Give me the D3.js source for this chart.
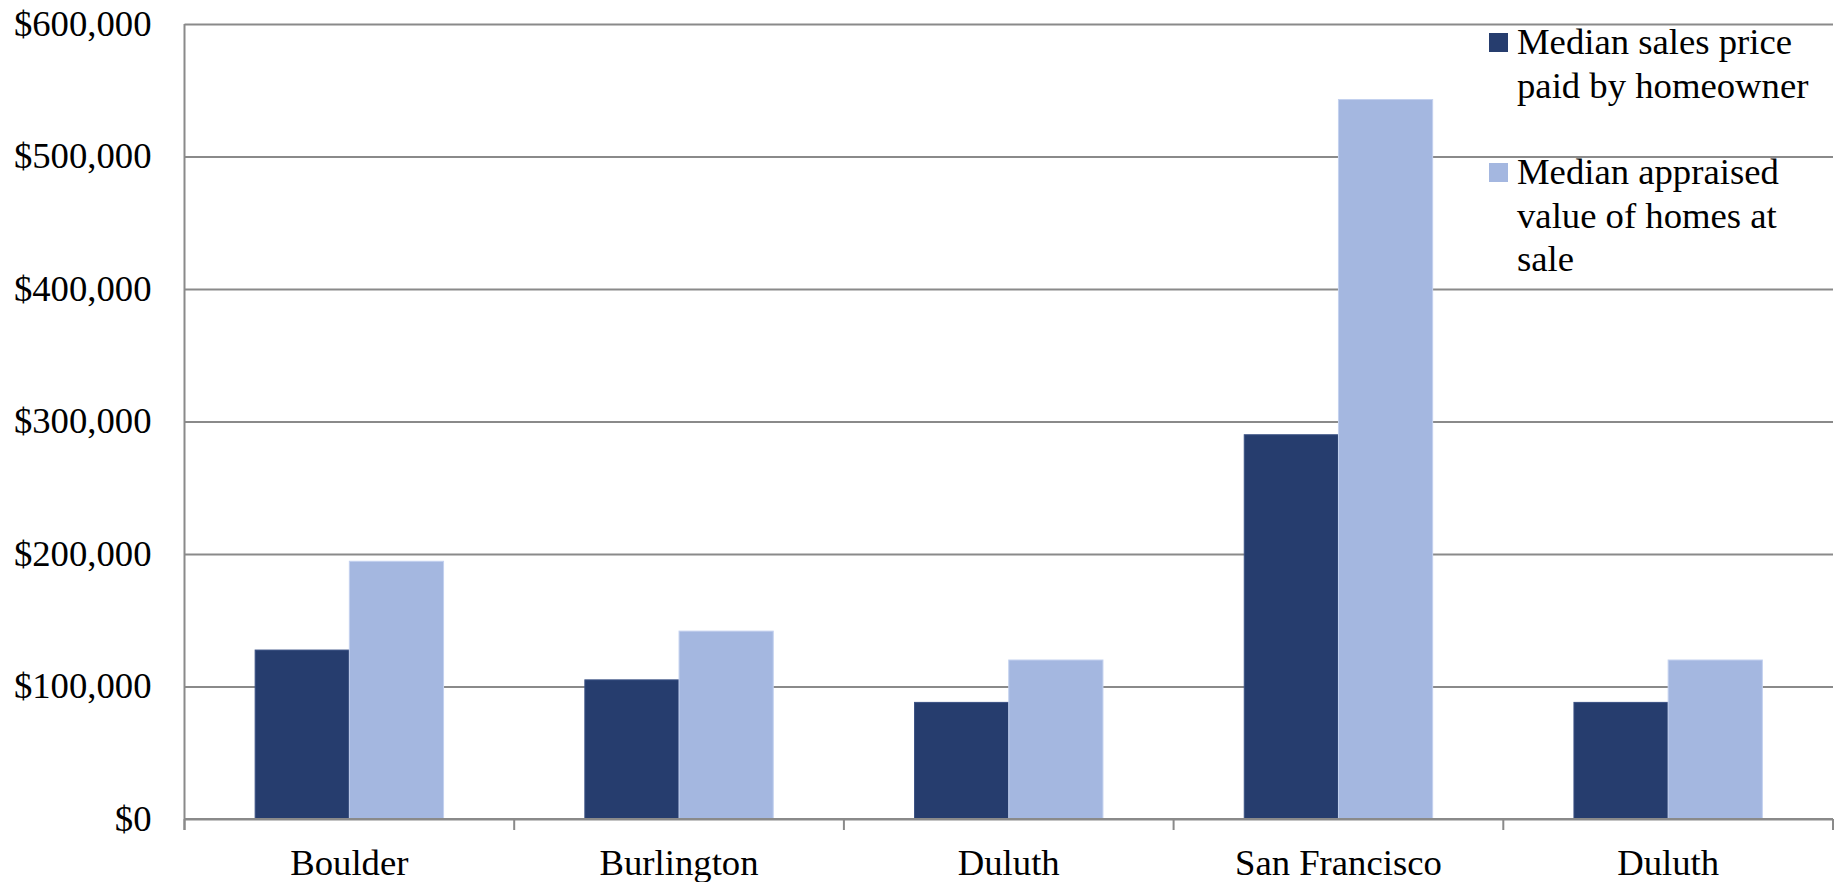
<!DOCTYPE html>
<html>
<head>
<meta charset="utf-8">
<script src="https://cdn.jsdelivr.net/npm/d3@7"></script>
<style>
  html, body { margin: 0; padding: 0; background: #fff; }
  svg { display: block; }
  text { font-family: "Liberation Serif", "Times New Roman", serif; fill: #000; }
</style>
</head>
<body>
<svg id="chart" width="1837" height="882"></svg>
<script>
// Cities along the category axis (Duluth is listed twice in the source table)
const categories = ["Boulder", "Burlington", "Duluth", "San Francisco", "Duluth"];

// Median sales price paid by homeowner
const salesPrice = [127500, 105000, 88000, 290000, 88000];
// Median appraised value of homes at sale
const appraisedValue = [194500, 141800, 120000, 543000, 120000];

const seriesNames = [
  ["Median sales price", "paid by homeowner"],
  ["Median appraised", "value of homes at", "sale"]
];
const seriesColors = ["#263d6e", "#a4b7e0"];
const seriesStrokes = ["#3a5184", "#c3d1ef"];

const yTicks = [0, 100000, 200000, 300000, 400000, 500000, 600000];

const svg = d3.select("#chart");
const plot = { left: 184.5, right: 1833, top: 24, bottom: 819 };
const fontSize = 36.7;

const y = d3.scaleLinear().domain([0, 600000]).range([plot.bottom, plot.top]);

const gap = 1.5 / 3.5;
const x0 = d3.scaleBand()
  .domain(d3.range(categories.length))
  .range([plot.left, plot.right])
  .paddingInner(gap)
  .paddingOuter(gap / 2);
const x1 = d3.scaleBand().domain([0, 1]).range([0, x0.bandwidth()]);

const fmt = d => "$" + d3.format(",")(d);

// Horizontal gridlines + left axis labels
const yAxis = d3.axisLeft(y).tickValues(yTicks).tickFormat(fmt)
  .tickSize(-(plot.right - plot.left)).tickPadding(33);
const gy = svg.append("g").attr("transform", `translate(${plot.left},0)`).call(yAxis);
gy.select(".domain").remove();
gy.selectAll(".tick line").attr("stroke", "#8a8a8a").attr("stroke-width", 2);
gy.selectAll(".tick text")
  .attr("font-size", fontSize)
  .attr("font-family", "Liberation Serif, Times New Roman, serif")
  .attr("dy", "0.3em");

// Vertical axis line
svg.append("line")
  .attr("x1", plot.left).attr("x2", plot.left)
  .attr("y1", plot.top).attr("y2", plot.bottom + 11)
  .attr("stroke", "#8a8a8a").attr("stroke-width", 2);

// Bars
const rows = categories.map((c, i) => ({ i, values: [salesPrice[i], appraisedValue[i]] }));
const groups = svg.append("g").selectAll("g").data(rows).join("g")
  .attr("transform", d => `translate(${x0(d.i)},0)`);
groups.selectAll("rect").data(d => d.values.map((v, s) => ({ v, s }))).join("rect")
  .attr("x", d => x1(d.s))
  .attr("width", x1.bandwidth())
  .attr("y", d => y(d.v))
  .attr("height", d => y(0) - y(d.v))
  .attr("fill", d => seriesColors[d.s])
  .attr("stroke", d => seriesStrokes[d.s])
  .attr("stroke-width", 1);

// Category axis: baseline, boundary ticks and labels
svg.append("line")
  .attr("x1", plot.left).attr("x2", plot.right)
  .attr("y1", plot.bottom).attr("y2", plot.bottom)
  .attr("stroke", "#8a8a8a").attr("stroke-width", 2);
const step = x0.step();
const bounds = d3.range(categories.length + 1).map(k => plot.left + k * step);
svg.append("g").selectAll("line").data(bounds).join("line")
  .attr("x1", d => d).attr("x2", d => d)
  .attr("y1", plot.bottom).attr("y2", plot.bottom + 11)
  .attr("stroke", "#8a8a8a").attr("stroke-width", 2);
svg.append("g").selectAll("text").data(categories).join("text")
  .attr("x", (d, i) => x0(i) + x0.bandwidth() / 2)
  .attr("y", 875)
  .attr("text-anchor", "middle")
  .attr("font-size", fontSize)
  .text(d => d);

// Legend
const legendTops = [33, 163];
const legend = svg.append("g").selectAll("g").data(seriesNames).join("g");
legend.append("rect")
  .attr("x", 1489).attr("y", (d, i) => legendTops[i])
  .attr("width", 19).attr("height", 19)
  .attr("fill", (d, i) => seriesColors[i]);
legend.append("text")
  .attr("x", 1517)
  .attr("font-size", fontSize)
  .selectAll("tspan").data((d, i) => d.map((line, j) => ({ line, j, i }))).join("tspan")
  .attr("x", 1517)
  .attr("y", d => legendTops[d.i] + 21 + d.j * 43.5)
  .text(d => d.line);
</script>
</body>
</html>
